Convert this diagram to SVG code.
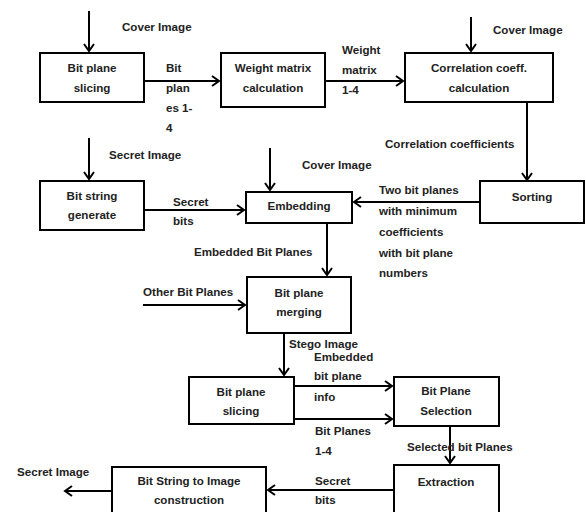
<svg xmlns="http://www.w3.org/2000/svg" width="586" height="512" viewBox="0 0 586 512">
<style>
text{font-family:"Liberation Sans",Arial,sans-serif;font-weight:bold;font-size:11.6px;fill:#222}
.c{text-anchor:middle}
rect{fill:#fff;stroke:#000;stroke-width:2}
.e line{stroke:#000;stroke-width:2;marker-end:url(#a)}
</style>
<defs>
<marker id="a" markerUnits="userSpaceOnUse" markerWidth="12" markerHeight="12" viewBox="-8 -6 10 12" refX="0" refY="0" orient="auto">
<path d="M-7,-5 L0,0 L-7,5" fill="none" stroke="#000" stroke-width="2"/>
</marker>
</defs>
<rect width="586" height="512" style="fill:#fff;stroke:none"/>
<g class="e" id="connectors">
<line x1="89" y1="11" x2="89" y2="51"/>
<line x1="144" y1="81" x2="219" y2="81"/>
<line x1="325" y1="81" x2="403" y2="81"/>
<line x1="471" y1="17" x2="471" y2="51"/>
<line x1="527" y1="102" x2="527" y2="180"/>
<line x1="89" y1="138" x2="89" y2="179"/>
<line x1="144" y1="210" x2="244" y2="210"/>
<line x1="270" y1="148" x2="270" y2="190"/>
<line x1="480" y1="202" x2="354" y2="202"/>
<line x1="327" y1="223" x2="327" y2="275"/>
<line x1="143" y1="305" x2="245" y2="305"/>
<line x1="284" y1="333" x2="284" y2="375"/>
<line x1="294" y1="386" x2="392" y2="386"/>
<line x1="294" y1="419" x2="392" y2="419"/>
<line x1="450" y1="426" x2="450" y2="463"/>
<line x1="394" y1="490" x2="268" y2="490"/>
<line x1="112" y1="491" x2="65" y2="491"/>
</g>
<g id="bps1"><rect x="40" y="53" width="104" height="49"/><text class="c" x="92" y="72">Bit plane</text><text class="c" x="92" y="92">slicing</text></g>
<g id="wmc"><rect x="221" y="53" width="104" height="54"/><text class="c" x="273" y="72">Weight matrix</text><text class="c" x="273" y="92">calculation</text></g>
<g id="ccc"><rect x="405" y="53" width="148" height="49"/><text class="c" x="479" y="72">Correlation coeff.</text><text class="c" x="479" y="92">calculation</text></g>
<g id="bsg"><rect x="40" y="181" width="104" height="49"/><text class="c" x="92" y="200">Bit string</text><text class="c" x="92" y="219">generate</text></g>
<g id="emb"><rect x="246" y="192" width="106" height="31"/><text class="c" x="299" y="210">Embedding</text></g>
<g id="sort"><rect x="480" y="181" width="104" height="42"/><text class="c" x="532" y="201">Sorting</text></g>
<g id="merge"><rect x="247" y="277" width="104" height="56"/><text class="c" x="299" y="297">Bit plane</text><text class="c" x="299" y="316">merging</text></g>
<g id="bps2"><rect x="189" y="377" width="105" height="47"/><text class="c" x="241" y="396">Bit plane</text><text class="c" x="241" y="415">slicing</text></g>
<g id="sel"><rect x="394" y="377" width="105" height="49"/><text class="c" x="446" y="395">Bit Plane</text><text class="c" x="446" y="415">Selection</text></g>
<g id="ext"><rect x="394" y="465" width="105" height="60"/><text class="c" x="446" y="486">Extraction</text></g>
<g id="bsi"><rect x="112" y="467" width="154" height="60"/><text class="c" x="189" y="485">Bit String to Image</text><text class="c" x="189" y="504">construction</text></g>
<g id="labels">
<text x="122" y="31">Cover Image</text>
<text x="166" y="72">Bit</text><text x="166" y="92">plan</text><text x="166" y="112">es 1-</text><text x="166" y="132">4</text>
<text x="342" y="54">Weight</text><text x="342" y="74">matrix</text><text x="342" y="94">1-4</text>
<text x="493" y="34">Cover Image</text>
<text x="385" y="148">Correlation coefficients</text>
<text x="109" y="159">Secret Image</text>
<text x="173" y="206">Secret</text><text x="173" y="225">bits</text>
<text x="302" y="169">Cover Image</text>
<text x="379" y="194">Two bit planes</text><text x="379" y="215">with minimum</text><text x="379" y="236">coefficients</text><text x="379" y="257">with bit plane</text><text x="379" y="277">numbers</text>
<text x="194" y="256">Embedded Bit Planes</text>
<text x="143" y="296">Other Bit Planes</text>
<text x="289" y="348">Stego Image</text>
<text x="314" y="361">Embedded</text><text x="314" y="380">bit plane</text><text x="314" y="401">info</text>
<text x="315" y="435">Bit Planes</text><text x="315" y="455">1-4</text>
<text x="407" y="451">Selected bit Planes</text>
<text x="315" y="485">Secret</text><text x="315" y="504">bits</text>
<text x="17" y="476">Secret Image</text>
</g>
</svg>
